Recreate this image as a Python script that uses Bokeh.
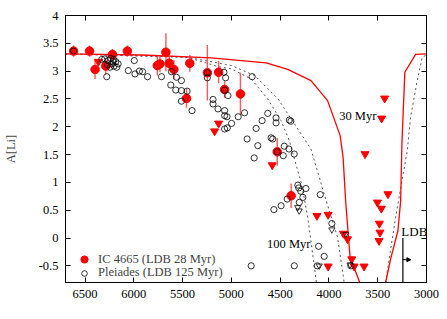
from bokeh.plotting import figure
from bokeh.models import (ColumnDataSource, LinearAxis, Range1d, FixedTicker, Label,
                          Legend, LegendItem, Arrow, NormalHead)
from bokeh.embed import file_html
from bokeh.resources import INLINE

FONT = "Liberation Serif"

# ---------------- data ----------------
teff_ticks = [6500, 6000, 5500, 5000, 4500, 4000, 3500, 3000]
teff_tick_labels = ["6500", "6000", "5500", "5000", "4500", "4000", "3500", "3000"]
ali_ticks = [-0.5, 0.0, 0.5, 1.0, 1.5, 2.0, 2.5, 3.0, 3.5, 4.0]
ali_tick_labels = ["-0.5", "0", "0.5", "1", "1.5", "2", "2.5", "3", "3.5", "4"]

# IC 4665 detections
ic_teff = [6617, 6454, 6397, 6287, 6219, 6066, 5759, 5732, 5671, 5637, 5589, 5426,
           5460, 5246, 5131, 5070, 4907, 4530, 4387]
ic_ali = [3.36, 3.36, 3.03, 3.09, 3.30, 3.36, 3.10, 3.13, 3.34, 3.14, 3.03, 3.14,
          2.51, 2.97, 2.98, 2.67, 2.59, 1.55, 0.76]
ic_err = [0.10, 0.10, 0.17, 0.15, 0.10, 0.10, 0.18, 0.15, 0.34, 0.12, 0.17, 0.15,
          0.17, 0.50, 0.20, 0.15, 0.38, 0.25, 0.22]

# IC 4665 upper limits
icl_teff = [6363, 5131, 5172, 4581, 4123, 4008, 3630, 3395, 3503, 3463, 3483, 3477,
            3487, 3851, 3810, 3766, 4008, 3742, 3640, 3429, 3460]
icl_ali = [3.17, 2.06, 1.92, 1.31, 0.40, 0.42, 1.51, 0.79, 0.64, 0.53, 0.26, 0.10,
           -0.05, 0.08, -0.02, -0.38, -0.51, -0.51, -0.51, 2.51, 2.15]

# Pleiades detections
pl_teff = [6617, 6328, 6297, 6263, 6236, 6208, 6185, 6161, 6270, 6229, 6202, 6175,
           6243, 6212, 6277, 6056, 5995, 5988, 5943, 5910, 5859, 5716, 5614, 5563,
           5512, 5621, 5570, 5512, 5454, 5512, 5403, 5246, 5246, 5188, 5188, 5137,
           5076, 5059, 5069, 5069, 5045, 5069, 5035, 5069, 5042, 4998, 4930, 4865,
           4787, 4838, 4746, 4729, 4627, 4766, 4542, 4542, 4406, 4390, 4593, 4576,
           4685, 4458, 4410, 4468, 4356, 4530, 4319, 4309, 4236, 4289, 4267, 4304,
           4428, 4490, 4564, 4089, 4106, 4049, 4797, 4355, 4120, 3970, 3776]
pl_ali = [3.36, 3.21, 3.22, 3.19, 3.23, 3.21, 3.17, 3.13, 3.11, 3.13, 3.09, 3.07,
          3.07, 3.17, 2.90, 3.01, 3.19, 2.95, 3.00, 2.99, 2.90, 2.90, 2.99, 2.89,
          2.83, 2.75, 2.66, 2.65, 2.64, 2.46, 2.29, 2.97, 2.88, 2.49, 2.41, 2.32,
          2.98, 2.88, 2.29, 2.20, 2.18, 2.66, 2.56, 1.96, 1.98, 2.06, 2.18, 2.25,
          2.90, 1.78, 1.97, 1.66, 2.24, 1.44, 2.16, 2.07, 2.12, 2.10, 1.80, 1.78,
          2.11, 1.65, 1.60, 1.48, 1.51, 1.55, 0.95, 0.90, 0.89, 0.84, 0.73, 0.64,
          0.70, 0.58, 0.51, 0.78, -0.15, -0.33, -0.50, -0.50, -0.50, 0.26, -0.50]

# Pleiades upper limits
pll_teff = [4320, 4305, 3970, 3827, 3784, 4100]
pll_ali = [0.55, 0.49, 0.15, 0.07, -0.48, -0.50]

# models
m30_teff = [6700, 5920, 5205, 4644, 4422, 4184, 4014, 3885, 3855, 3827, 3783, 3684]
m30_ali = [3.31, 3.29, 3.24, 3.15, 3.03, 2.83, 2.47, 1.84, 1.45, 0.62, -0.35, -0.80]
m30b_teff = [3419, 3368, 3293, 3265, 3252, 3222, 3112, 3000]
m30b_ali = [-0.80, -0.38, 0.13, 0.67, 1.70, 2.98, 3.30, 3.31]

m100_teff = [6700, 5450, 5137, 4998, 4797, 4627, 4491, 4406, 4378, 4280, 4215, 4128]
m100_ali = [3.31, 3.25, 3.08, 3.04, 2.86, 2.50, 2.11, 1.75, 1.57, 0.97, 0.35, -0.80]
m125_teff = [6700, 5450, 4998, 4760, 4522, 4353, 4184, 4049, 3911, 3844]
m125_ali = [3.31, 3.25, 3.10, 2.92, 2.50, 2.05, 1.60, 0.79, 0.01, -0.80]
m125b_teff = [3419, 3317, 3197, 3163, 3095, 3044, 3010]
m125b_ali = [-0.80, 0.37, 1.57, 2.17, 2.83, 3.25, 3.28]

ldb_teff = 3242
ldb_ali_top = 0.0
ldb_arrow_teff = 3160
ldb_arrow_ali = -0.39

x_lo, x_hi = 6700, 3000
y_lo, y_hi = -0.8, 4.0

# ---------------- figure ----------------
p = figure(width=447, height=319, x_range=Range1d(x_lo, x_hi), y_range=Range1d(y_lo, y_hi),
           output_backend="svg", toolbar_location=None,
           min_border_left=63, min_border_right=21, min_border_top=15, min_border_bottom=37)
p.grid.visible = False
p.outline_line_color = "black"
p.outline_line_width = 1
p.background_fill_color = "white"
p.border_fill_color = "white"


def style_axis(ax, ticks, labels, show):
    ax.ticker = FixedTicker(ticks=ticks)
    ax.major_label_overrides = {float(t): (l if show else "") for t, l in zip(ticks, labels)}
    ax.major_tick_in = 5
    ax.major_tick_out = 0
    ax.minor_tick_in = 0
    ax.minor_tick_out = 0
    ax.axis_line_color = "black"
    ax.major_tick_line_color = "black"
    ax.major_label_text_font = FONT
    ax.major_label_text_font_size = "12.5px"
    ax.major_label_text_color = "black"
    ax.major_label_standoff = 7 if show else 0


style_axis(p.xaxis[0], teff_ticks, teff_tick_labels, True)
style_axis(p.yaxis[0], ali_ticks, ali_tick_labels, True)
p.yaxis[0].axis_label = "A[Li]"
p.yaxis[0].axis_label_text_font = FONT
p.yaxis[0].axis_label_text_font_size = "12.5px"
p.yaxis[0].axis_label_text_font_style = "normal"
p.yaxis[0].axis_label_standoff = 18

top = LinearAxis()
style_axis(top, teff_ticks, teff_tick_labels, False)
p.add_layout(top, "above")
right = LinearAxis()
style_axis(right, ali_ticks, ali_tick_labels, False)
p.add_layout(right, "right")

# models
p.line(m100_teff, m100_ali, line_color="#555555", line_width=1, line_dash="2 3")
p.line(m125_teff, m125_ali, line_color="#555555", line_width=1, line_dash="2 3")
p.line(m125b_teff, m125b_ali, line_color="#555555", line_width=1, line_dash="2 3")
p.line(m30_teff, m30_ali, line_color="#ff0000", line_width=1.3)
p.line(m30b_teff, m30b_ali, line_color="#ff0000", line_width=1.3)

# IC 4665
ic_src = ColumnDataSource(dict(x=ic_teff, y=ic_ali,
                               lo=[a - e for a, e in zip(ic_ali, ic_err)],
                               hi=[a + e for a, e in zip(ic_ali, ic_err)]))
p.segment(x0="x", y0="lo", x1="x", y1="hi", source=ic_src, line_color="#ff2020",
          line_width=1.4, line_alpha=0.75)
ic_r = p.scatter("x", "y", source=ic_src, size=8.5, marker="circle",
                 fill_color="#ff0000", line_color="#ff0000")
p.scatter(icl_teff, icl_ali, size=8, marker="inverted_triangle",
          fill_color="#ff0000", line_color="#ff0000")

# Pleiades
pl_r = p.scatter(pl_teff, pl_ali, size=6.2, marker="circle", fill_color=None,
                 line_color="black", line_width=0.8)
p.scatter(pll_teff, pll_ali, size=6.2, marker="inverted_triangle", fill_color=None,
          line_color="black", line_width=0.8)

# LDB marker
p.segment(x0=[ldb_teff], y0=[y_lo], x1=[ldb_teff], y1=[ldb_ali_top], line_color="black",
          line_width=1.2)
p.add_layout(Arrow(end=NormalHead(size=4, line_color="black", fill_color="black"),
                   x_start=ldb_teff, y_start=ldb_arrow_ali, x_end=ldb_arrow_teff,
                   y_end=ldb_arrow_ali, line_color="black", line_width=1))

# labels
for txt, x, y, fs in [("30 Myr", 3895, 2.19, "12.5px"), ("100 Myr", 4634, -0.10, "12.5px")]:
    p.add_layout(Label(x=x, y=y, text=txt, text_font=FONT, text_font_size=fs,
                       text_baseline="middle", text_align="left", text_color="black"))
p.add_layout(Label(x=3258, y=0.12, text="LDB", text_font=FONT, text_font_size="13px",
                   text_baseline="alphabetic", text_align="left", text_color="black"))

# x-axis title with subscript
p.add_layout(Label(x=5052, y=-1.324, text="T", text_font=FONT, text_font_size="12.5px",
                   text_baseline="alphabetic", text_align="left"))
p.add_layout(Label(x=4968, y=-1.369, text="eff", text_font=FONT, text_font_size="10px",
                   text_baseline="alphabetic", text_align="left"))
p.add_layout(Label(x=4832, y=-1.324, text="(K)", text_font=FONT, text_font_size="12.5px",
                   text_baseline="alphabetic", text_align="left"))

leg_common = dict(border_line_color=None, background_fill_alpha=0,
                  label_text_font=FONT, label_text_font_size="12.5px",
                  glyph_width=20, label_height=12, spacing=0,
                  padding=3, margin=0, label_standoff=4)
legend_ic = Legend(items=[LegendItem(label="IC 4665 (LDB 28 Myr)", renderers=[ic_r])],
                   location=(9, 14), glyph_height=18, **leg_common)
legend_pl = Legend(items=[LegendItem(label="Pleiades (LDB 125 Myr)", renderers=[pl_r])],
                   location=(9, 2), glyph_height=14, **leg_common)
p.add_layout(legend_ic)
p.add_layout(legend_pl)

open("out.html", "w").write(file_html(p, INLINE))
